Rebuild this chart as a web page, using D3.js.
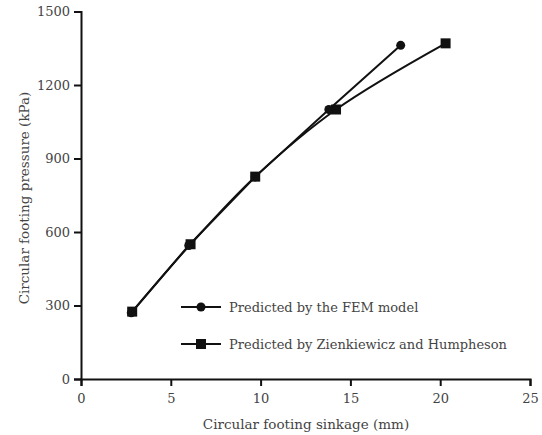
<!DOCTYPE html>
<html>
<head>
<meta charset="utf-8">
<script src="https://cdn.jsdelivr.net/npm/d3@7"></script>
<style>
  body { margin: 0; background: #fff; }
  text { font-family: "DejaVu Serif", serif; fill: #444; }
</style>
</head>
<body>
<div id="chart"></div>
<script>
// sinkage (mm) vs pressure (kPa)
const femSinkage = [2.8, 6.0, 9.7, 13.8, 17.8];
const femPressure = [270, 545, 825, 1100, 1362];
const zhSinkage = [2.85, 6.1, 9.7, 14.2, 20.3];
const zhPressure = [275, 550, 826, 1100, 1370];
const xTicks = [0, 5, 10, 15, 20, 25];
const yTicks = [0, 300, 600, 900, 1200, 1500];
const legendLabels = ["Predicted by the FEM model", "Predicted by Zienkiewicz and Humpheson"];

const W = 542, H = 435;
const MARGIN = { top: 12, left: 81, right: 12, bottom: 56 };

const svg = d3.select("#chart").append("svg")
  .attr("width", W).attr("height", H);

const x = d3.scaleLinear().domain([0, 25]).range([MARGIN.left, 530]);
const y = d3.scaleLinear().domain([0, 1500]).range([379, 11.5]);

// axes
const xAxis = svg.append("g")
  .attr("transform", `translate(0, ${y(0)})`)
  .call(d3.axisBottom(x).tickValues(xTicks).tickFormat(d3.format("d")).tickSize(7).tickPadding(8));
const yAxis = svg.append("g")
  .attr("transform", `translate(${x(0)}, 0)`)
  .call(d3.axisLeft(y).tickValues(yTicks).tickFormat(d3.format("d")).tickSize(7).tickPadding(4));

[xAxis, yAxis].forEach(a => {
  a.select(".domain").attr("stroke", "#111").attr("stroke-width", 2);
  a.selectAll(".tick line").attr("stroke", "#111").attr("stroke-width", 2);
  a.selectAll(".tick text")
    .style("font-family", "DejaVu Serif, serif")
    .style("font-size", "13px")
    .attr("fill", "#555");
});

// axis titles
svg.append("text")
  .attr("x", 306).attr("y", 429)
  .attr("text-anchor", "middle")
  .style("font-size", "13.5px")
  .text("Circular footing sinkage (mm)");

svg.append("text")
  .attr("transform", "translate(29, 198) rotate(-90)")
  .attr("text-anchor", "middle")
  .style("font-size", "13.5px")
  .text("Circular footing pressure (kPa)");

// series
const fem = femSinkage.map((d, i) => ({ x: d, y: femPressure[i] }));
const zh = zhSinkage.map((d, i) => ({ x: d, y: zhPressure[i] }));

const lineStraight = d3.line().x(d => x(d.x)).y(d => y(d.y));
const lineCurved = d3.line().x(d => x(d.x)).y(d => y(d.y)).curve(d3.curveCatmullRom.alpha(0.5));

svg.append("path").datum(zh)
  .attr("d", lineCurved)
  .attr("fill", "none").attr("stroke", "#111").attr("stroke-width", 2);
svg.append("path").datum(fem)
  .attr("d", lineStraight)
  .attr("fill", "none").attr("stroke", "#111").attr("stroke-width", 2);

const SQ = 10;
svg.selectAll(".zh").data(zh).enter().append("rect")
  .attr("x", d => x(d.x) - SQ / 2).attr("y", d => y(d.y) - SQ / 2)
  .attr("width", SQ).attr("height", SQ).attr("fill", "#111");
svg.selectAll(".fem").data(fem).enter().append("circle")
  .attr("cx", d => x(d.x)).attr("cy", d => y(d.y))
  .attr("r", 4.5).attr("fill", "#111");

// legend
const legend = svg.append("g");
legendLabels.forEach((lab, i) => {
  const ly = 307 + i * 37;
  legend.append("line")
    .attr("x1", 181).attr("x2", 221).attr("y1", ly).attr("y2", ly)
    .attr("stroke", "#111").attr("stroke-width", 2);
  if (i === 0) {
    legend.append("circle").attr("cx", 201).attr("cy", ly).attr("r", 4.5).attr("fill", "#111");
  } else {
    legend.append("rect").attr("x", 201 - SQ / 2).attr("y", ly - SQ / 2)
      .attr("width", SQ).attr("height", SQ).attr("fill", "#111");
  }
  legend.append("text")
    .attr("x", 229).attr("y", ly + 4.5)
    .style("font-size", "13px")
    .text(lab);
});
</script>
</body>
</html>
